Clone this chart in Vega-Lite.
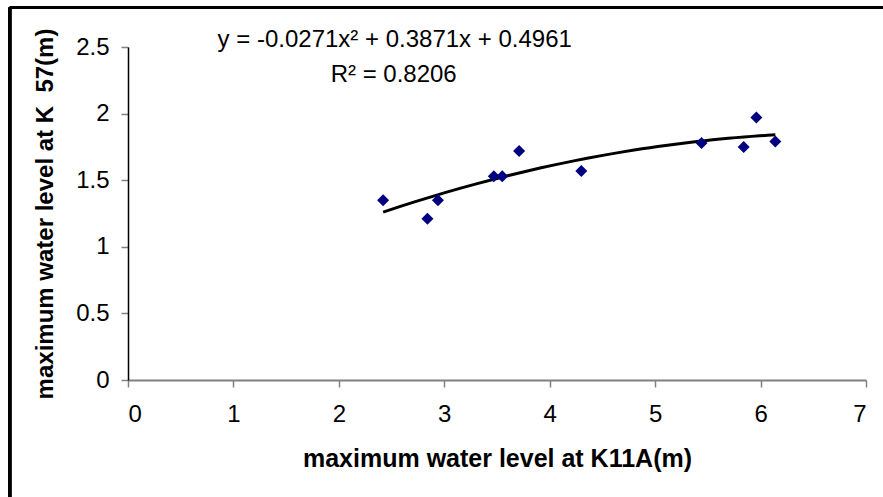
{
  "$schema": "https://vega.github.io/schema/vega-lite/v6.json",
  "width": 738,
  "height": 333,
  "autosize": "none",
  "padding": {"left": 128, "top": 47, "right": 17, "bottom": 117},
  "background": "white",
  "config": {
    "view": {"stroke": null},
    "font": "Liberation Sans",
    "axis": {
      "grid": false,
      "labelFont": "Liberation Sans",
      "labelFontSize": 24,
      "labelColor": "black",
      "titleFont": "Liberation Sans",
      "titleFontWeight": "bold",
      "titleColor": "black",
      "tickColor": "#808080",
      "tickSize": 7,
      "tickWidth": 1.5,
      "format": "~g"
    }
  },
  "data": {
    "values": [
      {"k11a": 2.42, "k57": 1.35},
      {"k11a": 2.84, "k57": 1.21},
      {"k11a": 2.94, "k57": 1.35},
      {"k11a": 3.47, "k57": 1.53},
      {"k11a": 3.55, "k57": 1.53},
      {"k11a": 3.71, "k57": 1.72},
      {"k11a": 4.30, "k57": 1.57},
      {"k11a": 5.44, "k57": 1.78},
      {"k11a": 5.84, "k57": 1.75},
      {"k11a": 5.96, "k57": 1.97},
      {"k11a": 6.14, "k57": 1.79}
    ]
  },
  "layer": [
    {
      "mark": {"type": "rule", "color": "black", "strokeWidth": 2.5, "clip": false},
      "encoding": {
        "x": {"datum": -1.12, "type": "quantitative", "scale": {"domain": [0, 7], "nice": false}},
        "y": {"datum": -1.2, "type": "quantitative"},
        "y2": {"datum": 2.796}
      }
    },
    {
      "mark": {"type": "rule", "color": "black", "strokeWidth": 2.5, "clip": false},
      "encoding": {
        "x": {"datum": -1.12, "type": "quantitative"},
        "x2": {"datum": 8.5},
        "y": {"datum": 2.796, "type": "quantitative"}
      }
    },
    {
      "transform": [
        {"regression": "k57", "on": "k11a", "method": "poly", "order": 2}
      ],
      "mark": {"type": "line", "color": "black", "strokeWidth": 3},
      "encoding": {
        "x": {"field": "k11a", "type": "quantitative"},
        "y": {"field": "k57", "type": "quantitative"}
      }
    },
    {
      "mark": {"type": "point", "shape": "diamond", "filled": true, "color": "#000080", "opacity": 1, "size": 144},
      "encoding": {
        "x": {
          "field": "k11a",
          "type": "quantitative",
          "scale": {"domain": [0, 7], "nice": false},
          "axis": {
            "title": "maximum water level at K11A(m)",
            "titleFontSize": 25,
            "values": [0, 1, 2, 3, 4, 5, 6, 7],
            "domainColor": "#808080",
            "domainWidth": 2,
            "labelPadding": 15,
            "titlePadding": 20
          }
        },
        "y": {
          "field": "k57",
          "type": "quantitative",
          "scale": {"domain": [0, 2.5], "nice": false},
          "axis": {
            "title": "maximum water level at K\u00a0\u00a057(m)",
            "titleFontSize": 24,
            "values": [0, 0.5, 1, 1.5, 2, 2.5],
            "domainColor": "black",
            "domainWidth": 1.5,
            "labelPadding": 12,
            "titlePadding": 18
          }
        }
      }
    },
    {
      "data": {"values": [{"label": "y = -0.0271x² + 0.3871x + 0.4961"}]},
      "mark": {"type": "text", "fontSize": 24, "align": "center", "baseline": "middle", "color": "black", "font": "Liberation Sans"},
      "encoding": {
        "x": {"datum": 2.53, "type": "quantitative"},
        "y": {"datum": 2.556, "type": "quantitative"},
        "text": {"field": "label"}
      }
    },
    {
      "data": {"values": [{"label": "R² = 0.8206"}]},
      "mark": {"type": "text", "fontSize": 24, "align": "center", "baseline": "middle", "color": "black", "font": "Liberation Sans"},
      "encoding": {
        "x": {"datum": 2.52, "type": "quantitative"},
        "y": {"datum": 2.293, "type": "quantitative"},
        "text": {"field": "label"}
      }
    }
  ]
}
